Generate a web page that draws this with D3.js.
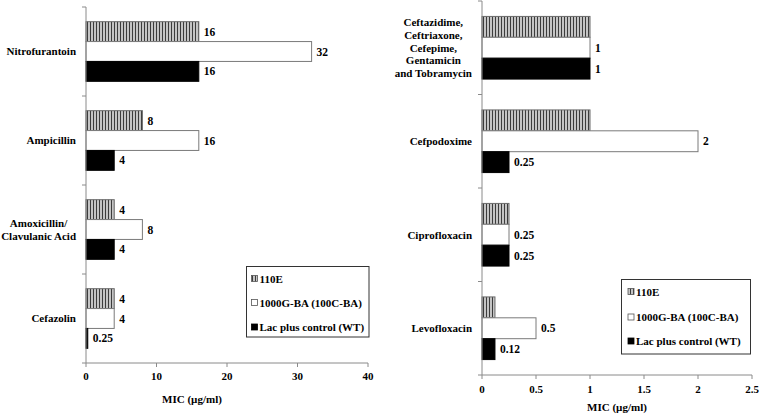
<!DOCTYPE html>
<html><head><meta charset="utf-8">
<script src="https://cdn.jsdelivr.net/npm/d3@7"></script>
<style>
body{margin:0;background:#fff;}
svg text{font-family:"Liberation Serif","Times New Roman",serif;font-weight:bold;fill:#000;}
</style></head>
<body>
<svg id="chart" width="760" height="414"></svg>
<script>
// ---- data ----
const seriesNames = ["110E", "1000G-BA (100C-BA)", "Lac plus control (WT)"];

const leftCategories = ["Nitrofurantoin", "Ampicillin", "Amoxicillin/\nClavulanic Acid", "Cefazolin"];
const left110E  = [16, 8, 4, 4];
const left1000G = [32, 16, 8, 4];
const leftWT    = [16, 4, 4, 0.25];
const leftTicks = [0, 10, 20, 30, 40];

const rightCategories = ["Ceftazidime,\nCeftriaxone,\nCefepime,\nGentamicin\nand Tobramycin", "Cefpodoxime", "Ciprofloxacin", "Levofloxacin"];
const right110E  = [1, 1, 0.25, 0.12];
const right1000G = [1, 2, 0.25, 0.5];
const rightWT    = [1, 0.25, 0.25, 0.12];
const rightTicks = [0, 0.5, 1, 1.5, 2, 2.5];

const axisTitle = "MIC (\u00b5g/ml)";

// ---- drawing ----
const svg = d3.select("#chart");
const defs = svg.append("defs");
const pat = defs.append("pattern").attr("id", "hatch")
  .attr("width", 3).attr("height", 6).attr("patternUnits", "userSpaceOnUse");
pat.append("rect").attr("width", 3).attr("height", 6).attr("fill", "#c4c4c4");
pat.append("rect").attr("x", 0).attr("width", 1).attr("height", 6).attr("fill", "#3c3c3c");

const fills = ["url(#hatch)", "#ffffff", "#000000"];
const strokes = ["#6a6a6a", "#7a7a7a", "#000000"];

function panel(cfg) {
  const g = svg.append("g");
  const x = d3.scaleLinear().domain(cfg.domain).range([cfg.x0, cfg.x1]);
  const y = d3.scaleBand().domain(d3.range(cfg.categories.length))
    .range([cfg.y0, cfg.y1]).paddingInner(0.33).paddingOuter(0.165);
  const ys = d3.scaleBand().domain(d3.range(3)).range([0, y.bandwidth()]);
  const series = [cfg.s1, cfg.s2, cfg.s3];

  // bars
  series.forEach((vals, si) => {
    const rows = vals.map((v, i) => ({v, i}));
    g.selectAll(null).data(rows).enter().append("rect")
      .attr("x", x(0))
      .attr("y", d => y(d.i) + ys(si))
      .attr("width", d => Math.max(1, x(d.v) - x(0)))
      .attr("height", ys.bandwidth())
      .attr("fill", fills[si])
      .attr("stroke", strokes[si])
      .attr("stroke-width", 1);
    if (cfg.showLabels[si]) {
      g.selectAll(null).data(rows).enter().append("text")
        .attr("x", d => x(d.v) + 5)
        .attr("y", d => y(d.i) + ys(si) + ys.bandwidth() / 2)
        .attr("dy", "0.35em")
        .attr("font-size", "11.5px")
        .text(d => d.v);
    }
  });

  // y axis
  g.append("line").attr("x1", x(0)).attr("x2", x(0)).attr("y1", cfg.y0).attr("y2", cfg.y1)
    .attr("stroke", "#8a8a8a").attr("stroke-width", 1);
  const step = y.step();
  d3.range(cfg.categories.length + 1).forEach(k => {
    const yy = cfg.y0 + k * step;
    g.append("line").attr("x1", x(0) - 4).attr("x2", x(0)).attr("y1", yy).attr("y2", yy)
      .attr("stroke", "#8a8a8a");
  });
  // category labels
  cfg.categories.forEach((c, i) => {
    const lines = c.split("\n");
    const cy = y(i) + y.bandwidth() / 2;
    const lh = cfg.lineHeight;
    const t = g.append("text").attr("font-size", "11px");
    if (lines.length === 1) {
      t.attr("text-anchor", "end").attr("x", x(0) - 10).attr("y", cy).attr("dy", "0.35em").text(c);
    } else {
      const tmp = g.append("text").attr("font-size", "11px");
      let maxW = 0;
      lines.forEach(l => { tmp.text(l); maxW = Math.max(maxW, tmp.node().getComputedTextLength()); });
      tmp.remove();
      const cx = x(0) - 10 - maxW / 2;
      t.attr("text-anchor", "middle");
      lines.forEach((l, li) => {
        t.append("tspan").attr("x", cx)
          .attr("y", cy + (li - (lines.length - 1) / 2) * lh)
          .attr("dy", "0.35em").text(l);
      });
    }
  });

  // x axis
  g.append("line").attr("x1", cfg.x0).attr("x2", cfg.x1).attr("y1", cfg.y1).attr("y2", cfg.y1)
    .attr("stroke", "#8a8a8a");
  cfg.ticks.forEach(tv => {
    g.append("line").attr("x1", x(tv)).attr("x2", x(tv)).attr("y1", cfg.y1).attr("y2", cfg.y1 + 4)
      .attr("stroke", "#8a8a8a");
    g.append("text").attr("x", x(tv)).attr("y", cfg.tickLabelY).attr("dy", "0.35em")
      .attr("text-anchor", "middle").attr("font-size", "11px").text(tv);
  });
  g.append("text").attr("x", cfg.titleX).attr("y", cfg.titleY).attr("dy", "0.35em")
    .attr("text-anchor", "middle").attr("font-size", "11px").text(axisTitle);

  // legend
  const L = cfg.legend;
  g.append("rect").attr("x", L.x).attr("y", L.y).attr("width", L.w).attr("height", L.h)
    .attr("fill", "#fff").attr("stroke", "#333").attr("stroke-width", 1);
  seriesNames.forEach((n, si) => {
    const ry = L.rowY[si];
    g.append("rect").attr("x", L.sx).attr("y", ry - 3.5).attr("width", 6).attr("height", 6)
      .attr("fill", fills[si]).attr("stroke", si === 2 ? "#000" : "#555").attr("stroke-width", 0.8);
    g.append("text").attr("x", L.sx + 8).attr("y", ry).attr("dy", "0.35em")
      .attr("font-size", "11px").text(n);
  });
}

panel({
  categories: leftCategories, s1: left110E, s2: left1000G, s3: leftWT,
  domain: [0, 40], ticks: leftTicks, showLabels: [true, true, true],
  x0: 86, x1: 368, y0: 7, y1: 363, lineHeight: 13,
  tickLabelY: 376, titleX: 192, titleY: 399,
  legend: {x: 246.5, y: 266.5, w: 122.5, h: 70.5, sx: 251.5, rowY: [279, 303, 327.5]}
});

panel({
  categories: rightCategories, s1: right110E, s2: right1000G, s3: rightWT,
  domain: [0, 2.5], ticks: rightTicks, showLabels: [false, true, true],
  x0: 482, x1: 752, y0: 1, y1: 375, lineHeight: 12.6,
  tickLabelY: 389, titleX: 617, titleY: 407,
  legend: {x: 621.5, y: 279.5, w: 129, h: 74.5, sx: 628, rowY: [292, 317.5, 341.5]}
});
</script>
</body></html>
